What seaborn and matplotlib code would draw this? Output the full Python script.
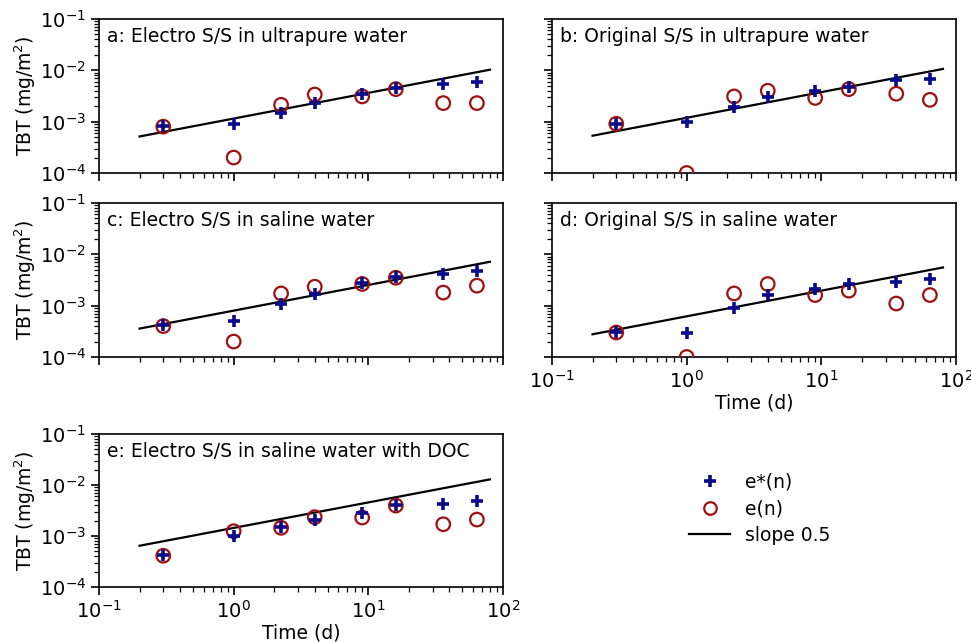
import numpy as np
import pandas as pd
import matplotlib
matplotlib.use("Agg")
import matplotlib.pyplot as plt
from matplotlib.lines import Line2D
import seaborn as sns

# ---- data ----
time_d = [0.3, 1, 2.25, 4, 9, 16, 36, 64]

panel_titles = [
    "a: Electro S/S in ultrapure water",
    "b: Original S/S in ultrapure water",
    "c: Electro S/S in saline water",
    "d: Original S/S in saline water",
    "e: Electro S/S in saline water with DOC",
]

estar_a = [8.1e-4, 9.1e-4, 1.47e-3, 2.36e-3, 3.48e-3, 4.5e-3, 5.4e-3, 5.9e-3]
en_a    = [8.0e-4, 2.0e-4, 2.13e-3, 3.38e-3, 3.1e-3, 4.3e-3, 2.3e-3, 2.3e-3]

estar_b = [9.1e-4, 1.0e-3, 1.92e-3, 3.0e-3, 3.9e-3, 4.8e-3, 6.5e-3, 6.7e-3]
en_b    = [9.1e-4, 1.0e-4, 3.1e-3, 4.0e-3, 2.9e-3, 4.3e-3, 3.5e-3, 2.66e-3]

estar_c = [4.15e-4, 5.1e-4, 1.1e-3, 1.66e-3, 2.72e-3, 3.55e-3, 4.1e-3, 4.8e-3]
en_c    = [4.0e-4, 2.0e-4, 1.73e-3, 2.34e-3, 2.65e-3, 3.5e-3, 1.8e-3, 2.45e-3]

estar_d = [3.1e-4, 3.0e-4, 9.1e-4, 1.6e-3, 2.1e-3, 2.64e-3, 2.93e-3, 3.36e-3]
en_d    = [3.0e-4, 1.0e-4, 1.73e-3, 2.64e-3, 1.61e-3, 1.96e-3, 1.1e-3, 1.61e-3]

estar_e = [4.15e-4, 1.0e-3, 1.48e-3, 2.08e-3, 2.8e-3, 4.0e-3, 4.3e-3, 4.8e-3]
en_e    = [4.1e-4, 1.24e-3, 1.45e-3, 2.34e-3, 2.3e-3, 3.95e-3, 1.7e-3, 2.1e-3]

estar_all = [estar_a, estar_b, estar_c, estar_d, estar_e]
en_all = [en_a, en_b, en_c, en_d, en_e]

# slope-0.5 reference line: value at t = 1 d, drawn from 0.2 d to 80 d
line_t = [0.2, 80]
line_coef = [1.15e-3, 1.19e-3, 8.0e-4, 6.2e-4, 1.44e-3]

legend_labels = ["e*(n)", "e(n)", "slope 0.5"]

# ---- figure ----
plt.rcParams.update({
    "font.family": ["DejaVu Sans"],
    "font.size": 13,
    "axes.linewidth": 1.2,
    "xtick.major.size": 6, "ytick.major.size": 6,
    "xtick.minor.size": 3.5, "ytick.minor.size": 3.5,
    "xtick.major.width": 1.2, "ytick.major.width": 1.2,
    "xtick.minor.width": 0.9, "ytick.minor.width": 0.9,
    "xtick.labelsize": 14, "ytick.labelsize": 14,
})

W, H = 971, 642
fig = plt.figure(figsize=(W / 100, H / 100), dpi=100)

def box(l, t, r, b):
    return [l / W, 1 - b / H, (r - l) / W, (b - t) / H]

boxes = [
    box(99, 19, 503, 173),
    box(552, 19, 956, 173),
    box(99, 203, 503, 357),
    box(552, 203, 956, 357),
    box(99, 434, 503, 587),
]

plus_color = "#0a0a8c"
circ_color = "#a01010"

for i, pos in enumerate(boxes):
    ax = fig.add_axes(pos)
    df = pd.DataFrame({"t": time_d, "estar": estar_all[i], "en": en_all[i]})
    lt = np.array(line_t)
    ldf = pd.DataFrame({"t": lt, "y": line_coef[i] * lt ** 0.5})

    sns.lineplot(data=ldf, x="t", y="y", ax=ax, color="black", linewidth=1.6)
    sns.scatterplot(data=df, x="t", y="en", ax=ax, marker="o", s=95,
                    facecolor="none", edgecolor=circ_color, linewidth=1.6, zorder=3)
    sns.scatterplot(data=df, x="t", y="estar", ax=ax, marker="+", s=75,
                    color=plus_color, linewidth=2.6, zorder=4)

    ax.set_xscale("log")
    ax.set_yscale("log")
    ax.set_xlim(0.1, 100)
    ax.set_ylim(1e-4, 1e-1)
    ax.text(0.02, 0.95, panel_titles[i], transform=ax.transAxes,
            ha="left", va="top", fontsize=13.5)

    if i in (0, 2, 4):
        ax.set_ylabel("TBT (mg/m$^2$)", fontsize=13.5, labelpad=1)
    else:
        ax.set_ylabel("")
        ax.tick_params(axis="y", which="both", labelleft=False)
    if i in (3, 4):
        ax.set_xlabel("Time (d)", fontsize=13.5, labelpad=1)
    else:
        ax.set_xlabel("")
        ax.tick_params(axis="x", which="both", labelbottom=False)

handles = [
    Line2D([], [], marker="+", linestyle="none", color=plus_color,
           markersize=9, markeredgewidth=2.6),
    Line2D([], [], marker="o", linestyle="none", markerfacecolor="none",
           markeredgecolor=circ_color, markersize=9, markeredgewidth=1.6),
    Line2D([], [], color="black", linewidth=1.6),
]
fig.legend(handles, legend_labels, loc="center left",
           bbox_to_anchor=(672 / W, 1 - 509 / H), frameon=False,
           fontsize=13.5, handlelength=2.2, labelspacing=0.4)

fig.savefig("out.png", dpi=100)
